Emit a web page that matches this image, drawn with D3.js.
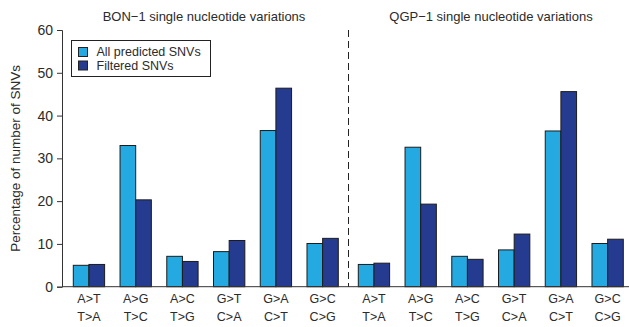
<!DOCTYPE html>
<html>
<head>
<meta charset="utf-8">
<script src="https://cdn.jsdelivr.net/npm/d3@7"></script>
<style>
  body { margin: 0; background: #fff; }
  text { font-family: "Liberation Sans", Arial, sans-serif; fill: #2b2b2b; }
</style>
</head>
<body>
<script>
// categories (two-line labels)
var categories = ["A>T|T>A", "A>G|T>C", "A>C|T>G", "G>T|C>A", "G>A|C>T", "G>C|C>G"];
var seriesNames = ["All predicted SNVs", "Filtered SNVs"];
var bonAll = [5.0, 33.0, 7.1, 8.2, 36.5, 10.1];
var bonFiltered = [5.2, 20.3, 5.9, 10.8, 46.4, 11.3];
var qgpAll = [5.2, 32.6, 7.1, 8.6, 36.4, 10.1];
var qgpFiltered = [5.5, 19.3, 6.4, 12.3, 45.6, 11.1];
var yTicks = [0, 10, 20, 30, 40, 50, 60];
var titles = ["BON\u22121 single nucleotide variations", "QGP\u22121 single nucleotide variations"];

setChart();

function setChart(){
    var width = 629, height = 327;
    var colors = ["#24a9e1", "#253b8f"];

    var svg = d3.select("body").append("svg")
        .attr("width", width)
        .attr("height", height);

    //y scale shared by both panels
    var y = d3.scaleLinear().domain([0, 60]).range([286.7, 30]);

    //one band scale per panel
    var panels = [
        {title: titles[0], all: bonAll, filt: bonFiltered, range: [73.3, 338.3], cx: 204},
        {title: titles[1], all: qgpAll, filt: qgpFiltered, range: [358.3, 623.3], cx: 491}
    ];

    //y axis
    var yAxis = svg.append("g")
        .attr("transform", "translate(62,0)")
        .call(d3.axisLeft(y).tickValues(yTicks).tickSize(5).tickPadding(4));
    yAxis.select(".domain").attr("stroke", "#333");
    yAxis.selectAll(".tick line").attr("stroke", "#333");
    yAxis.selectAll(".tick text")
        .attr("font-size", "14px")
        .attr("font-family", "Liberation Sans, Arial, sans-serif")
        .attr("fill", "#2b2b2b");

    svg.append("text")
        .attr("transform", "translate(20," + y(30) + ") rotate(-90)")
        .attr("text-anchor", "middle")
        .attr("font-size", "13.5px")
        .text("Percentage of number of SNVs");

    panels.forEach(function(p){
        var x0 = d3.scaleBand().domain(categories).range(p.range).paddingInner(0.33);
        var x1 = d3.scaleBand().domain([0, 1]).range([0, x0.bandwidth()]);

        var groups = svg.append("g").selectAll("g")
            .data(categories)
            .enter().append("g")
            .attr("transform", function(d){ return "translate(" + x0(d) + ",0)"; });

        groups.selectAll("rect")
            .data(function(d, i){ return [p.all[i], p.filt[i]]; })
            .enter().append("rect")
            .attr("x", function(d, j){ return x1(j); })
            .attr("y", function(d){ return y(d); })
            .attr("width", x1.bandwidth())
            .attr("height", function(d){ return y(0) - y(d); })
            .attr("fill", function(d, j){ return colors[j]; })
            .attr("stroke", "#1c1c1c")
            .attr("stroke-width", 1);

        //two-line category labels
        groups.each(function(d){
            var parts = d.split("|");
            var g = d3.select(this);
            parts.forEach(function(s, k){
                g.append("text")
                    .attr("x", x0.bandwidth() / 2)
                    .attr("y", 303 + k * 18)
                    .attr("text-anchor", "middle")
                    .attr("font-size", "12.5px")
                    .text(s);
            });
        });

        svg.append("text")
            .attr("x", p.cx)
            .attr("y", 21)
            .attr("text-anchor", "middle")
            .attr("font-size", "13px")
            .text(p.title);
    });

    //x baseline
    svg.append("line")
        .attr("x1", 62).attr("x2", width)
        .attr("y1", y(0)).attr("y2", y(0))
        .attr("stroke", "#333");

    //dashed separator
    svg.append("line")
        .attr("x1", 348.5).attr("x2", 348.5)
        .attr("y1", 30).attr("y2", y(0))
        .attr("stroke", "#222")
        .attr("stroke-dasharray", "7,4");

    //legend
    var legend = svg.append("g").attr("transform", "translate(71.5,40.5)");
    legend.append("rect")
        .attr("width", 139).attr("height", 36)
        .attr("fill", "#fff").attr("stroke", "#222");
    seriesNames.forEach(function(name, i){
        legend.append("rect")
            .attr("x", 7).attr("y", 7 + i * 13.5)
            .attr("width", 9).attr("height", 9)
            .attr("fill", colors[i]).attr("stroke", "#222");
        legend.append("text")
            .attr("x", 25).attr("y", 15.5 + i * 13.5)
            .attr("font-size", "12.5px")
            .text(name);
    });
}
</script>
</body>
</html>
